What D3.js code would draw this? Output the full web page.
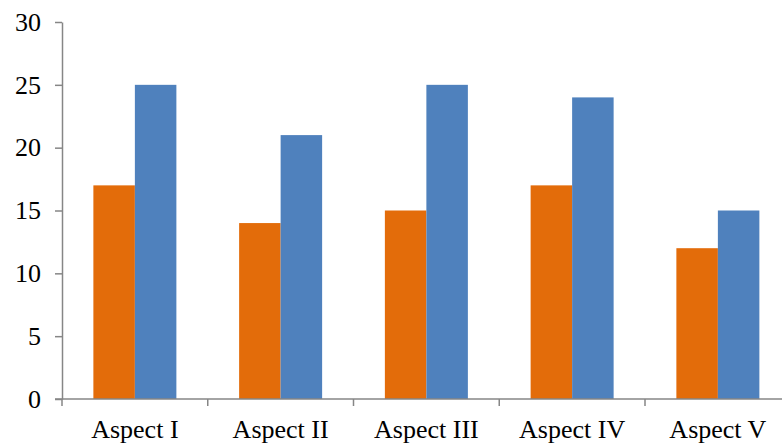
<!DOCTYPE html>
<html><head><meta charset="utf-8">
<script src="https://cdn.jsdelivr.net/npm/d3@7"></script>
<style>body{margin:0;background:#fff}svg{display:block}text{font-family:'Liberation Serif','Times New Roman',serif}</style>
</head><body><svg id="c" width="782" height="447"></svg>
<script>
const categories = ["Aspect I","Aspect II","Aspect III","Aspect IV","Aspect V"];
const seriesA = [17,14,15,17,12];
const seriesB = [25,21,25,24,15];
const yTicks = [0,5,10,15,20,25,30];
const colors = ["#E36C0A","#4F81BD"];

const svg = d3.select("#c");
const x0 = 62, step = 145.75;
const x = d3.scaleBand().domain(categories).range([x0, x0 + step*categories.length]).paddingInner(0).paddingOuter(0);
const y = d3.scaleLinear().domain([0,30]).range([399,22]);
const barW = 41.5;
const font = "'Liberation Serif','Times New Roman',serif";

const g = svg.append("g");
categories.forEach((c,i)=>{
  const cx = x(c) + x.bandwidth()/2;
  [seriesA[i], seriesB[i]].forEach((v,j)=>{
    g.append("rect")
      .attr("x", cx - barW + j*barW)
      .attr("y", y(v))
      .attr("width", barW)
      .attr("height", y(0)-y(v))
      .attr("fill", colors[j]);
  });
});

// y axis
const yAxis = d3.axisLeft(y).tickValues(yTicks).tickSize(7).tickPadding(14).tickSizeOuter(0);
const ya = svg.append("g").attr("transform",`translate(${x0},0)`).call(yAxis);
ya.attr("font-family",null).attr("font-size",null);
ya.select(".domain").attr("stroke","#868686").attr("stroke-width",1.5);
ya.selectAll(".tick line").attr("stroke","#868686").attr("stroke-width",1.5);
ya.selectAll("text").style("font-family",font).style("font-size","26px").attr("fill","#000");

// x axis
svg.append("line").attr("x1",x0-7).attr("x2",782).attr("y1",y(0)).attr("y2",y(0)).attr("stroke","#868686").attr("stroke-width",1.5);
categories.forEach((c,i)=>{
  svg.append("line").attr("x1",x(c)).attr("x2",x(c)).attr("y1",y(0)).attr("y2",y(0)+7).attr("stroke","#868686").attr("stroke-width",1.5);
  svg.append("text").attr("x",x(c)+x.bandwidth()/2).attr("y",438)
    .attr("text-anchor","middle").style("font-family",font).style("font-size","26px").attr("fill","#000").text(c);
});
</script></body></html>
